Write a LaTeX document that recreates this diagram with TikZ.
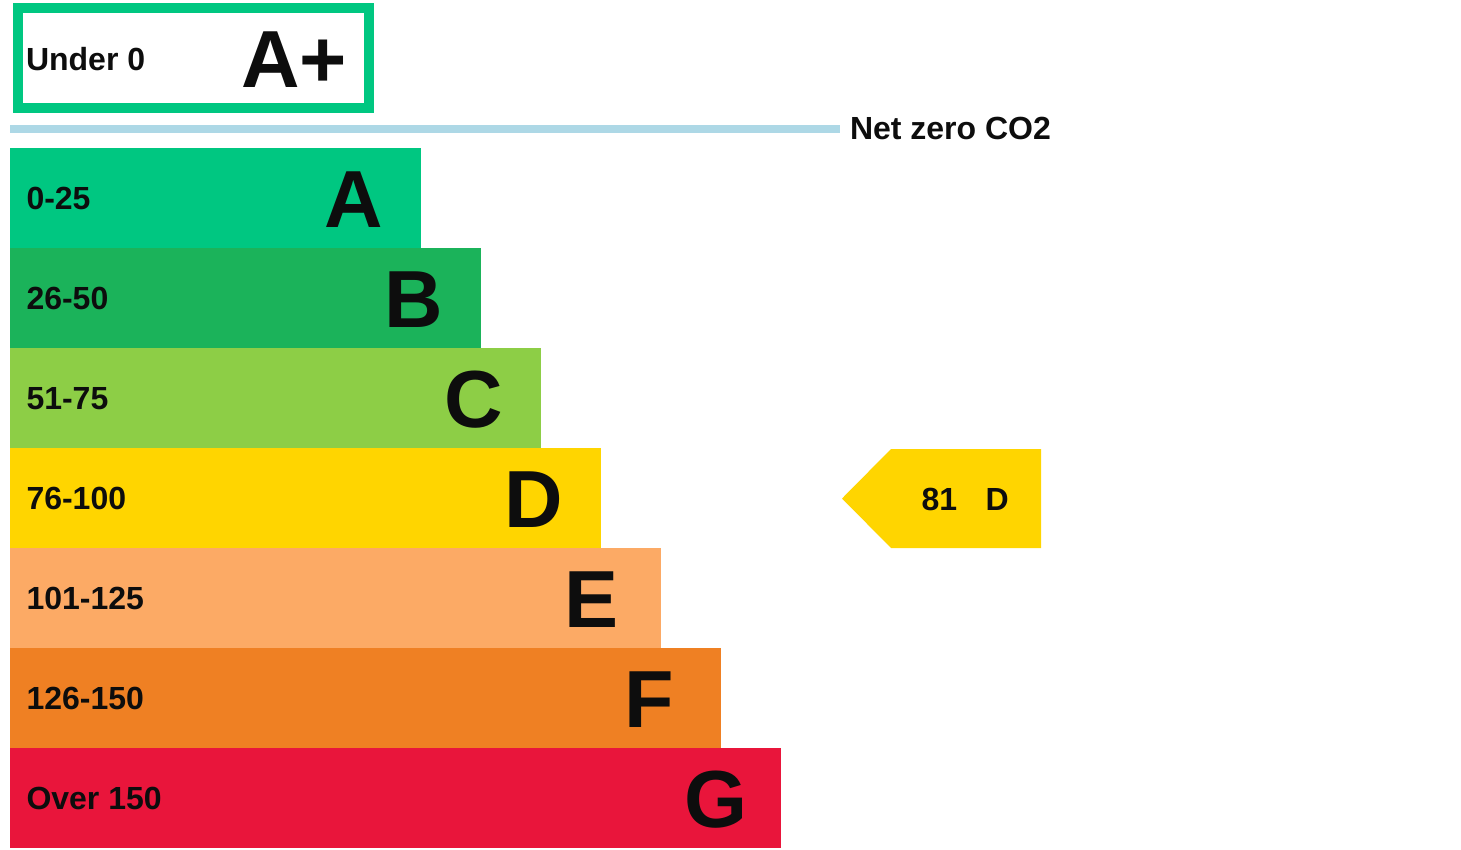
\documentclass[tikz,border=0pt]{standalone}
\usepackage{fontspec}
\setmainfont{Liberation Sans}
\definecolor{epcA}{HTML}{00C781}
\definecolor{epcB}{HTML}{1BB35A}
\definecolor{epcC}{HTML}{8DCE46}
\definecolor{epcD}{HTML}{FFD500}
\definecolor{epcE}{HTML}{FCAA65}
\definecolor{epcF}{HTML}{EF8023}
\definecolor{epcG}{HTML}{E9153B}
\definecolor{netline}{HTML}{ADD8E6}
\definecolor{ink}{HTML}{0D0D0D}
\begin{document}
\begin{tikzpicture}[x=1pt,y=-1pt,
  bar/.style={anchor=north west, inner sep=0pt, outer sep=0pt, minimum height=100pt},
  rng/.style={anchor=base west, inner sep=0pt, outer sep=0pt, text=ink, font=\fontsize{32}{32}\selectfont\bfseries},
  big/.style={anchor=base west, inner sep=0pt, outer sep=0pt, text=ink, font=\fontsize{81}{81}\selectfont\bfseries}]
\useasboundingbox (0,0) rectangle (1461,849);
% A+ box
\node[draw=epcA, line width=10pt, anchor=north west, inner sep=0pt, outer sep=0pt,
      minimum width=350.5pt, minimum height=100pt] (aplusbox) at (18,8) {};
\node[rng] (under) at (26,70) {Under 0};
\node[big] (aplus) at (241,87) {A+};
% net zero line
\coordinate (nzstart) at (10,129);
\node[rng] (netzero) at (850,139) {Net zero CO2};
\coordinate (nzend) at (840,129);
\draw[netline, line width=8pt] (nzstart) -- (nzend);
% bars
\foreach \n/\r/\c/\t [count=\i from 0] in {A/421/epcA/0-25, B/481/epcB/26-50, C/541/epcC/51-75, D/601/epcD/76-100, E/661/epcE/101-125, F/721/epcF/126-150, G/781/epcG/Over 150}{
  \pgfmathsetmacro{\ytop}{148+100*\i}
  \pgfmathsetmacro{\yr}{\ytop+61}
  \pgfmathsetmacro{\yl}{\ytop+79}
  \pgfmathsetmacro{\xl}{\r-97}
  \pgfmathsetmacro{\w}{\r-10}
  \node[bar, fill=\c, minimum width=\w pt] (bar\n) at (10,\ytop) {};
  \node[rng] (range\n) at (26.5,\yr) {\t};
  \node[big] (letter\n) at (\xl,\yl) {\n};
}
% current rating arrow
\fill[epcD] (842,498.5) -- (891,449) -- (1041,449) -- (1041,548) -- (891,548) -- cycle;
\node[rng] (current) at (921.5,510) {81\hspace{28.5pt}D};
\end{tikzpicture}
\end{document}
